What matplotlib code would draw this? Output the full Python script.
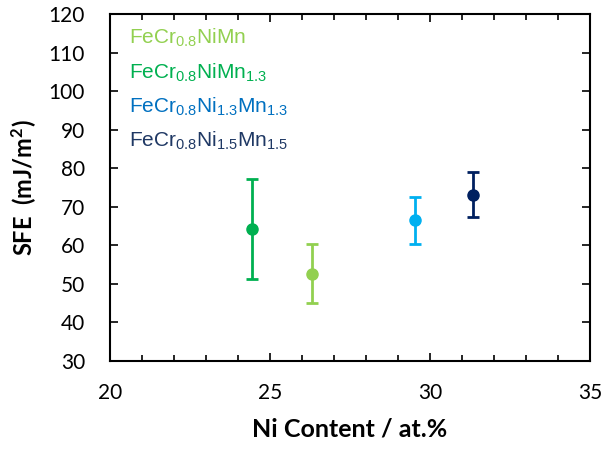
import matplotlib
matplotlib.use("Agg")
import matplotlib.pyplot as plt
from matplotlib.ticker import MultipleLocator

plt.rcParams["mathtext.default"] = "regular"

# Alloy data: Ni content (at.%) vs stacking fault energy (mJ/m^2)
alloys = ["FeCr$_{0.8}$NiMn$_{1.3}$", "FeCr$_{0.8}$NiMn",
          "FeCr$_{0.8}$Ni$_{1.3}$Mn$_{1.3}$", "FeCr$_{0.8}$Ni$_{1.5}$Mn$_{1.5}$"]
ni_content = [24.43, 26.30, 29.52, 31.33]
sfe = [64.2, 52.7, 66.6, 73.2]
sfe_err = [13.0, 7.6, 6.1, 5.9]
marker_colors = ["#00B050", "#92D050", "#00B0F0", "#002060"]

# Label list (top to bottom) and text colours
label_order = ["FeCr$_{0.8}$NiMn", "FeCr$_{0.8}$NiMn$_{1.3}$",
               "FeCr$_{0.8}$Ni$_{1.3}$Mn$_{1.3}$", "FeCr$_{0.8}$Ni$_{1.5}$Mn$_{1.5}$"]
label_colors = ["#92D050", "#00B050", "#0070C0", "#1F3864"]

fig = plt.figure(figsize=(6.04, 4.5), dpi=100)
ax = fig.add_axes([0.1821, 0.1978, 0.7947, 0.7700])

for x, y, e, c in zip(ni_content, sfe, sfe_err, marker_colors):
    ax.errorbar(x, y, yerr=e, fmt="o", color=c, ecolor=c, markersize=8,
                elinewidth=2.0, capsize=4.5, capthick=2.0)

ax.set_xlim(20, 35)
ax.set_ylim(30, 120)
ax.xaxis.set_major_locator(MultipleLocator(5))
ax.xaxis.set_minor_locator(MultipleLocator(1))
ax.yaxis.set_major_locator(MultipleLocator(10))

for s in ax.spines.values():
    s.set_linewidth(1.5)

tick_font = "Lato"
ax.tick_params(axis="x", which="both", direction="in", top=True, width=1.2,
               labelsize=15, pad=16)
ax.tick_params(axis="x", which="major", length=6)
ax.tick_params(axis="x", which="minor", length=4)
ax.tick_params(axis="y", which="major", direction="in", right=True, length=6,
               width=1.2, labelsize=15, pad=18)
for lab in ax.get_xticklabels() + ax.get_yticklabels():
    lab.set_fontfamily(tick_font)

ax.set_xlabel("Ni Content / at.%", fontsize=18, fontweight="bold",
              fontfamily=tick_font, labelpad=10)
ax.set_ylabel("SFE  (mJ/m$^{2}$)", fontsize=17, fontweight="bold",
              fontfamily=tick_font, labelpad=7)

label_y = [112.3, 103.4, 94.5, 85.6]
for txt, c, yy in zip(label_order, label_colors, label_y):
    ax.text(20.58, yy, txt, color=c, fontsize=15, fontfamily="Liberation Sans",
            va="baseline", ha="left")

fig.savefig("out.png", dpi=100)
